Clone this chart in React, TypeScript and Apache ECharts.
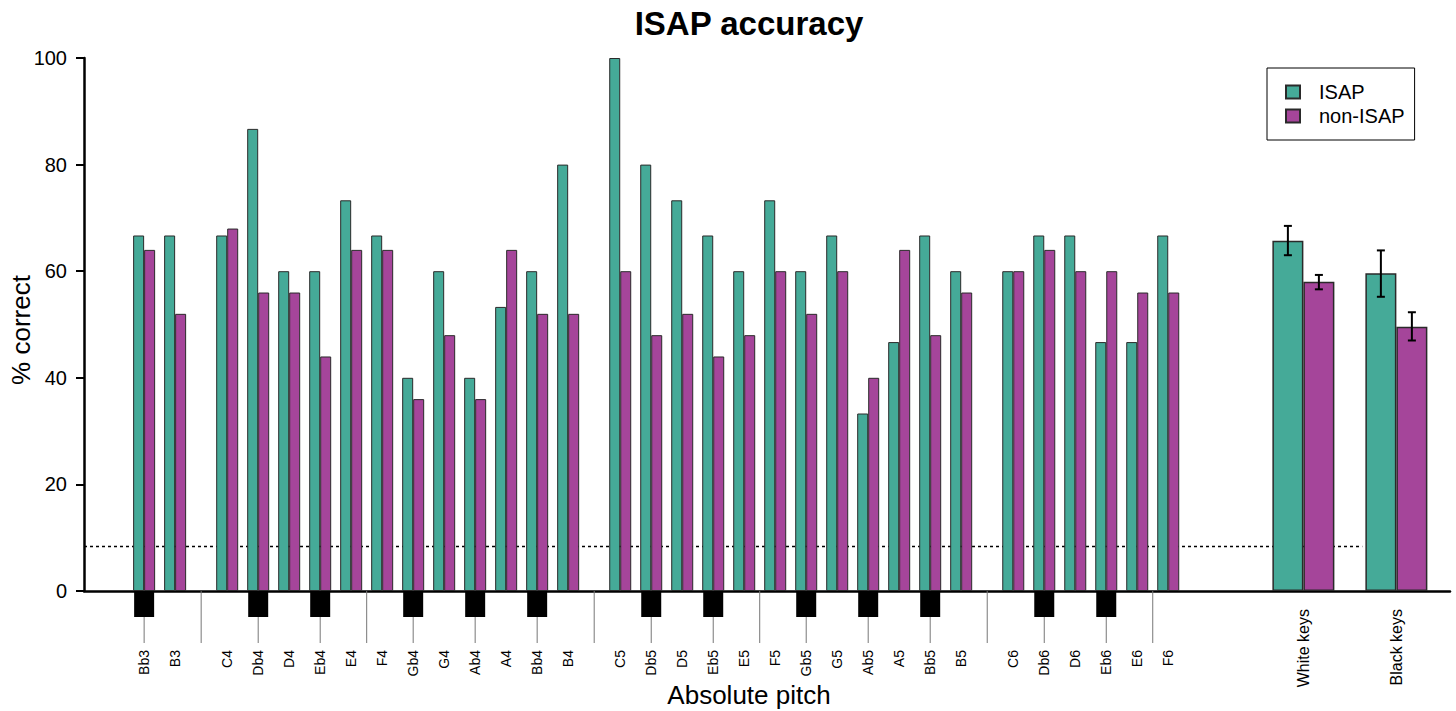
import React, { useEffect, useRef } from "react";
import * as echarts from "echarts";

// ---- data ----
const pitches = [
  "Bb3", "B3", "C4", "Db4", "D4", "Eb4", "E4", "F4", "Gb4", "G4", "Ab4", "A4", "Bb4", "B4",
  "C5", "Db5", "D5", "Eb5", "E5", "F5", "Gb5", "G5", "Ab5", "A5", "Bb5", "B5",
  "C6", "Db6", "D6", "Eb6", "E6", "F6",
];
const isapValues = [
  66.7, 66.7, 66.7, 86.7, 60, 60, 73.3, 66.7, 40, 60, 40, 53.3, 60, 80,
  100, 80, 73.3, 66.7, 60, 73.3, 60, 66.7, 33.3, 46.7, 66.7, 60,
  60, 66.7, 66.7, 46.7, 46.7, 66.7,
];
const nonIsapValues = [
  64, 52, 68, 56, 56, 44, 64, 64, 36, 48, 36, 64, 52, 52,
  60, 48, 52, 44, 48, 60, 52, 60, 40, 64, 48, 56,
  60, 64, 60, 60, 56, 56,
];
const summaryLabels = ["White keys", "Black keys"];
const summaryIsap = [65.7, 59.6];
const summaryIsapLow = [63.0, 55.2];
const summaryIsapHigh = [68.5, 63.9];
const summaryNonIsap = [58.0, 49.6];
const summaryNonIsapLow = [56.6, 47.0];
const summaryNonIsapHigh = [59.3, 52.3];
const yTicks = [0, 20, 40, 60, 80, 100];
const CHANCE = 8.33;

// ---- layout (x in "key slot" units) ----
const OCTAVE_GAP = 0.68;
const xPos: number[] = (() => {
  let g = 0;
  return pitches.map((p, i) => {
    if (i > 0 && p[0] === "C") g += OCTAVE_GAP;
    return i + g;
  });
})();
const summaryX = [37.4, 40.4];
const X_MIN = -1.94;
const X_MAX = 42.13;
const CHANCE_END = 39.3;

const TEAL = "#45AA98";
const PURPLE = "#A5459A";
const EDGE = "#2a2a2a";
const FONT = '"Liberation Sans", Arial, Helvetica, sans-serif';

export default function App() {
  const ref = useRef<HTMLDivElement>(null);

  useEffect(() => {
    document.body.style.margin = "0";
    if (!ref.current) return;
    const chart = echarts.init(ref.current, undefined, { renderer: "svg" });

    const errSeries = (low: number[], high: number[], offset: number) => ({
      type: "custom",
      xAxisIndex: 1,
      yAxisIndex: 0,
      z: 5,
      silent: true,
      data: summaryX.map((x, i) => [x, low[i], high[i]]),
      renderItem: (params: any, api: any) => {
        const x = api.value(0);
        const lo = api.coord([x, api.value(1)]);
        const hi = api.coord([x, api.value(2)]);
        const cx = lo[0] + offset;
        const cap = 4;
        const st = { stroke: "#000", lineWidth: 2 };
        return {
          type: "group",
          children: [
            { type: "line", shape: { x1: cx, y1: lo[1], x2: cx, y2: hi[1] }, style: st },
            { type: "line", shape: { x1: cx - cap, y1: lo[1], x2: cx + cap, y2: lo[1] }, style: st },
            { type: "line", shape: { x1: cx - cap, y1: hi[1], x2: cx + cap, y2: hi[1] }, style: st },
          ],
        };
      },
    });

    const option: any = {
      animation: false,
      textStyle: { fontFamily: FONT },
      grid: { left: 84, right: 6, top: 58, bottom: 120, containLabel: false },
      legend: {
        data: ["ISAP", "non-ISAP"],
        orient: "vertical",
        left: 1267,
        top: 68,
        padding: [14, 10, 14, 18],
        itemGap: 4,
        itemWidth: 14,
        itemHeight: 13,
        icon: "rect",
        borderColor: "#000",
        borderWidth: 1,
        backgroundColor: "#fff",
        textStyle: { fontSize: 20, color: "#000", fontFamily: FONT, padding: [0, 0, 0, 14] },
      },
      xAxis: [
        {
          type: "value",
          min: X_MIN,
          max: X_MAX,
          axisLine: { show: true, onZero: true, lineStyle: { color: "#000", width: 2.5 } },
          axisTick: { show: false },
          axisLabel: { show: false },
          splitLine: { show: false },
        },
        {
          type: "value",
          min: X_MIN,
          max: X_MAX,
          show: false,
          splitLine: { show: false },
        },
      ],
      yAxis: {
        type: "value",
        min: yTicks[0],
        max: yTicks[yTicks.length - 1],
        interval: yTicks[1] - yTicks[0],
        axisLine: { show: true, onZero: false, lineStyle: { color: "#000", width: 2.5 } },
        axisTick: { show: true, length: 8, lineStyle: { color: "#000", width: 2 } },
        axisLabel: { fontSize: 20, color: "#000", margin: 17, fontFamily: FONT },
        splitLine: { show: false },
      },
      graphic: [
        {
          type: "text",
          x: 749,
          y: 23,
          style: {
            text: "ISAP accuracy",
            font: `bold 33px ${FONT}`,
            fill: "#000",
            align: "center",
            verticalAlign: "middle",
          },
        },
        {
          type: "text",
          x: 749,
          y: 695,
          style: {
            text: "Absolute pitch",
            font: `26px ${FONT}`,
            fill: "#000",
            align: "center",
            verticalAlign: "middle",
          },
        },
        {
          type: "text",
          x: 21,
          y: 330,
          rotation: Math.PI / 2,
          style: {
            text: "% correct",
            font: `26px ${FONT}`,
            fill: "#000",
            align: "center",
            verticalAlign: "middle",
          },
        },
      ],
      series: [
        {
          type: "line",
          xAxisIndex: 0,
          silent: true,
          z: 1,
          symbol: "none",
          data: [
            [X_MIN, CHANCE],
            [CHANCE_END, CHANCE],
          ],
          lineStyle: { color: "#000", width: 1.5, type: [3, 3] },
        },
        {
          name: "ISAP",
          type: "bar",
          xAxisIndex: 0,
          z: 2,
          barWidth: 11,
          barGap: "0%",
          data: xPos.map((x, i) => [x, isapValues[i]]),
          itemStyle: { color: TEAL, borderColor: EDGE, borderWidth: 1 },
        },
        {
          name: "non-ISAP",
          type: "bar",
          xAxisIndex: 0,
          z: 2,
          barWidth: 11,
          barGap: "0%",
          data: xPos.map((x, i) => [x, nonIsapValues[i]]),
          itemStyle: { color: PURPLE, borderColor: EDGE, borderWidth: 1 },
        },
        {
          name: "ISAP",
          type: "bar",
          xAxisIndex: 1,
          z: 2,
          barWidth: 31,
          barGap: "0%",
          data: summaryX.map((x, i) => [x, summaryIsap[i]]),
          itemStyle: { color: TEAL, borderColor: EDGE, borderWidth: 1.5 },
        },
        {
          name: "non-ISAP",
          type: "bar",
          xAxisIndex: 1,
          z: 2,
          barWidth: 31,
          barGap: "0%",
          data: summaryX.map((x, i) => [x, summaryNonIsap[i]]),
          itemStyle: { color: PURPLE, borderColor: EDGE, borderWidth: 1.5 },
        },
        errSeries(summaryIsapLow, summaryIsapHigh, -15.5),
        errSeries(summaryNonIsapLow, summaryNonIsapHigh, 15.5),
        {
          // keyboard strip + pitch labels
          type: "custom",
          xAxisIndex: 0,
          z: 3,
          silent: true,
          clip: false,
          data: xPos.map((x) => [x, 0]),
          renderItem: (params: any, api: any) => {
            const i = params.dataIndex;
            const name = pitches[i];
            const [px, py] = api.coord([api.value(0), 0]);
            const isBlack = name.indexOf("b") >= 0;
            const children: any[] = [];
            if (isBlack) {
              children.push({
                type: "rect",
                shape: { x: px - 10, y: py, width: 20, height: 26 },
                style: { fill: "#000" },
              });
              children.push({
                type: "line",
                shape: { x1: px, y1: py + 26, x2: px, y2: py + 52 },
                style: { stroke: "#777", lineWidth: 1 },
              });
            }
            if (i > 0 && !isBlack && (name[0] === "C" || name[0] === "F")) {
              const prev = api.coord([xPos[i - 1], 0]);
              const bx = (px + prev[0]) / 2;
              children.push({
                type: "line",
                shape: { x1: bx, y1: py, x2: bx, y2: py + 52 },
                style: { stroke: "#777", lineWidth: 1 },
              });
            }
            children.push({
              type: "text",
              x: px,
              y: py + 59,
              rotation: Math.PI / 2,
              style: {
                text: name,
                fill: "#000",
                font: `14px ${FONT}`,
                align: "right",
                verticalAlign: "middle",
              },
            });
            return { type: "group", children };
          },
        },
        {
          // summary labels
          type: "custom",
          xAxisIndex: 1,
          z: 3,
          silent: true,
          clip: false,
          data: summaryX.map((x) => [x, 0]),
          renderItem: (params: any, api: any) => {
            const [px, py] = api.coord([api.value(0), 0]);
            return {
              type: "text",
              x: px,
              y: py + 18,
              rotation: Math.PI / 2,
              style: {
                text: summaryLabels[params.dataIndex],
                fill: "#000",
                font: `16px ${FONT}`,
                align: "right",
                verticalAlign: "middle",
              },
            };
          },
        },
      ],
    };

    chart.setOption(option);
    return () => chart.dispose();
  }, []);

  return <div ref={ref} style={{ width: 1456, height: 711 }} />;
}
